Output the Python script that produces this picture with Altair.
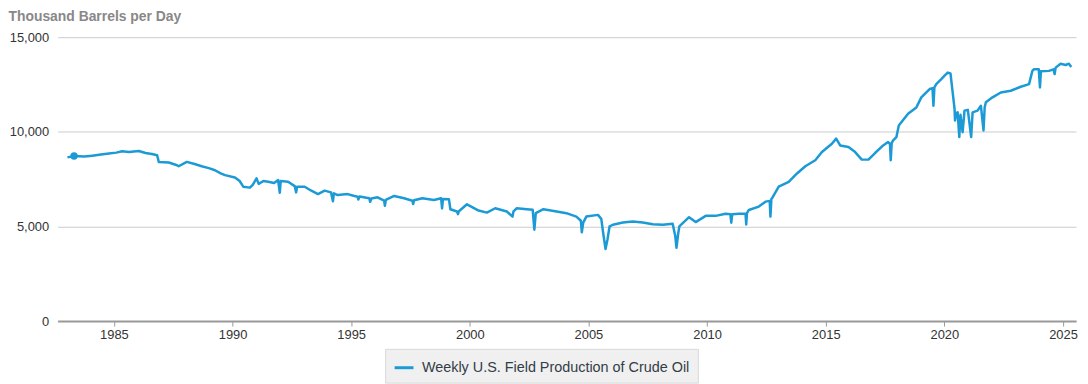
import altair as alt
import pandas as pd

series_name = "Weekly U.S. Field Production of Crude Oil"

years = [
    1983.04, 1983.32, 1983.74, 1984.09, 1984.45, 1984.79, 1985.10, 1985.35, 1985.63, 1986.05,
    1986.33, 1986.60, 1986.82, 1986.89, 1987.31, 1987.66, 1987.73, 1988.07, 1988.40, 1988.70,
    1989.00, 1989.26, 1989.50, 1989.68, 1990.10, 1990.30, 1990.45, 1990.73, 1990.85, 1991.01,
    1991.10, 1991.30, 1991.50, 1991.75, 1991.92, 1991.99, 1992.03, 1992.34, 1992.62, 1992.68,
    1992.72, 1993.04, 1993.30, 1993.60, 1993.88, 1994.15, 1994.23, 1994.27, 1994.43, 1994.85,
    1995.10, 1995.27, 1995.30, 1995.35, 1995.76, 1995.80, 1995.85, 1996.11, 1996.39, 1996.42,
    1996.46, 1996.81, 1997.23, 1997.58, 1997.61, 1997.65, 1998.00, 1998.49, 1998.79, 1998.83,
    1998.87, 1999.12, 1999.18, 1999.46, 1999.50, 1999.54, 1999.88, 2000.37, 2000.72, 2001.07,
    2001.56, 2001.80, 2001.84, 2001.98, 2002.40, 2002.65, 2002.72, 2002.78, 2003.10, 2003.66,
    2004.07, 2004.49, 2004.68, 2004.72, 2004.78, 2004.91, 2005.40, 2005.54, 2005.64, 2005.72,
    2005.80, 2005.89, 2006.03, 2006.45, 2006.87, 2007.29, 2007.71, 2008.13, 2008.55, 2008.66,
    2008.71, 2008.78, 2008.83, 2009.24, 2009.52, 2009.94, 2010.36, 2010.78, 2010.98, 2011.02,
    2011.06, 2011.34, 2011.62, 2011.65, 2011.68, 2011.76, 2012.18, 2012.46, 2012.64, 2012.67,
    2012.71, 2012.74, 2013.02, 2013.44, 2013.79, 2014.14, 2014.56, 2014.84, 2015.26, 2015.44,
    2015.61, 2015.96, 2016.24, 2016.52, 2016.80, 2017.08, 2017.42, 2017.63, 2017.71, 2017.74,
    2017.78, 2017.84, 2017.98, 2018.08, 2018.47, 2018.82, 2019.03, 2019.38, 2019.50, 2019.54,
    2019.58, 2019.66, 2019.87, 2020.00, 2020.14, 2020.26, 2020.43, 2020.45, 2020.50, 2020.56,
    2020.63, 2020.68, 2020.77, 2020.85, 2020.99, 2021.13, 2021.19, 2021.40, 2021.54, 2021.65,
    2021.70, 2021.75, 2022.03, 2022.38, 2022.80, 2023.22, 2023.57, 2023.71, 2023.78, 2023.98,
    2024.03, 2024.07, 2024.41, 2024.60, 2024.65, 2024.69, 2024.90, 2025.11, 2025.25, 2025.35,
]

production = [
    8650, 8720, 8690, 8740, 8800, 8850, 8900, 8970, 8930, 8985,
    8880, 8830, 8760, 8410, 8380, 8235, 8180, 8410, 8300, 8180,
    8080, 7970, 7800, 7710, 7590, 7400, 7100, 7050, 7200, 7540,
    7250, 7400, 7360, 7300, 7450, 6780, 7400, 7360, 7130, 6800,
    7100, 7100, 6900, 6710, 6890, 6800, 6330, 6750, 6660, 6710,
    6620, 6570, 6420, 6580, 6490, 6300, 6480, 6540, 6360, 6090,
    6400, 6610, 6490, 6360, 6180, 6380, 6490, 6400, 6490, 5950,
    6450, 6440, 5910, 5790, 5650, 5800, 6170, 5840, 5730, 5960,
    5790, 5520, 5800, 5960, 5910, 5880, 4825, 5700, 5910, 5790,
    5700, 5520, 5300, 4690, 5200, 5520, 5610, 5400, 4480, 3810,
    4300, 5000, 5090, 5210, 5260, 5210, 5120, 5090, 5140, 4480,
    3870, 4600, 5000, 5490, 5230, 5560, 5560, 5670, 5650, 5200,
    5650, 5670, 5670, 5100, 5700, 5870, 6050, 6310, 6350, 5520,
    6450, 6490, 7100, 7360, 7800, 8180, 8500, 8930, 9370, 9640,
    9280, 9200, 8930, 8530, 8530, 8880, 9280, 9460, 9350, 8500,
    9400, 9550, 9720, 10330, 10950, 11290, 11820, 12260, 12300, 11380,
    12350, 12520, 12780, 12950, 13130, 13080, 11210, 10600, 11000, 11030,
    9720, 10900, 9980, 11120, 11160, 9720, 11030, 11120, 11380, 10070,
    11300, 11560, 11820, 12080, 12170, 12380, 12520, 13220, 13310, 13300,
    12340, 13200, 13220, 13300, 13050, 13390, 13600, 13530, 13600, 13430,
]

marker_year = [1983.32]
marker_value = [8720]

x_ticks = [1985, 1990, 1995, 2000, 2005, 2010, 2015, 2020, 2025]
y_ticks = [0, 5000, 10000, 15000]

line_color = "#1c9ad6"
font = "Liberation Sans"

df = pd.DataFrame({"year": years, "value": production, "series": series_name})
dm = pd.DataFrame({"year": marker_year, "value": marker_value, "series": series_name})

x_enc = alt.X(
    "year:Q",
    scale=alt.Scale(domain=[1982.627, 2025.55], nice=False, zero=False),
    axis=alt.Axis(
        values=x_ticks, format="d", grid=False, title="",
        labelFont=font, labelFontSize=13, labelColor="#333333", labelPadding=3,
        domainColor="#999999", domainWidth=2, tickColor="#999999", tickSize=5, tickWidth=1,
        labelFlush=False,
    ),
)
y_enc = alt.Y(
    "value:Q",
    scale=alt.Scale(domain=[0, 15000], nice=False),
    axis=alt.Axis(
        values=y_ticks, format=",d", grid=True, gridColor="#cccccc", gridWidth=1,
        domain=False, ticks=False, labelPadding=9, labelFont=font, labelFontSize=13,
        labelColor="#333333",
        title="Thousand Barrels per Day", titleAngle=0, titleAlign="left",
        titleBaseline="alphabetic", titleX=-50, titleY=-16.5, titleFont=font,
        titleFontSize=14, titleFontWeight="bold", titleColor="#888888",
    ),
)

line = alt.Chart(df).mark_line(strokeWidth=2.5, strokeJoin="round").encode(
    x=x_enc,
    y=y_enc,
    color=alt.Color(
        "series:N",
        scale=alt.Scale(range=[line_color]),
        legend=alt.Legend(
            title=None, orient="none", legendX=330, legendY=314,
            fillColor="#f0f0f0", strokeColor="#d8d8d8", padding=8,
            symbolType="stroke", symbolSize=361, symbolStrokeWidth=3,
            labelFont=font, labelFontSize=14.5, labelColor="#333d47", labelOffset=7,
            labelLimit=1000,
        ),
    ),
)

point = alt.Chart(dm).mark_point(filled=True, size=55, opacity=1, color=line_color).encode(
    x="year:Q",
    y="value:Q",
)

chart = alt.layer(line, point).properties(
    width=1026,
    height=286,
    padding={"left": 50, "top": 28, "right": 4, "bottom": 62},
    autosize=alt.AutoSizeParams(type="none"),
).configure_view(strokeWidth=0)

chart.save("out.html", embed_options={"renderer": "svg", "actions": False})
